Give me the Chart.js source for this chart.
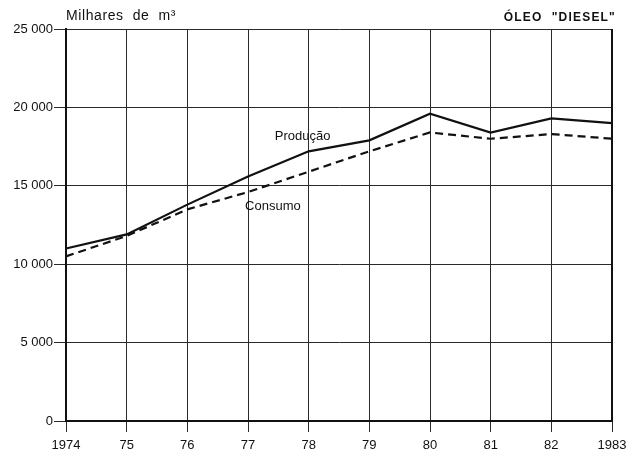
<!DOCTYPE html>
<html>
<head>
<meta charset="utf-8">
<script src="https://cdn.jsdelivr.net/npm/chart.js@4/dist/chart.umd.min.js"></script>
<style>
  html, body { margin: 0; padding: 0; background: #fff; }
  #wrap { width: 633px; height: 456px; position: relative; }
</style>
</head>
<body>
<div id="wrap"><canvas id="c" width="633" height="456"></canvas></div>
<script>
// Years on the horizontal axis (short form between the end years)
const years = ['1974', '75', '76', '77', '78', '79', '80', '81', '82', '1983'];
// Diesel oil, thousands of cubic metres
const producao = [11000, 11900, 13800, 15600, 17200, 17900, 19600, 18400, 19300, 19000];
const consumo  = [10500, 11800, 13500, 14600, 15900, 17200, 18400, 18000, 18300, 18000];
// Value axis ticks
const yTicks = [0, 5000, 10000, 15000, 20000, 25000];

const FONT = '"Liberation Sans", Arial, sans-serif';
const INK = '#111';

function fmt(v) {
  return v >= 1000 ? Math.floor(v / 1000) + ' ' + String(v % 1000).padStart(3, '0') : String(v);
}

// Header texts and series captions
const annotations = {
  id: 'annotations',
  afterDatasetsDraw(chart) {
    const { ctx, scales: { x, y }, chartArea } = chart;
    const spacing = ('letterSpacing' in ctx);
    ctx.save();
    ctx.fillStyle = INK;
    ctx.textBaseline = 'alphabetic';
    ctx.font = '14px ' + FONT;
    ctx.textAlign = 'left';
    if (spacing) ctx.letterSpacing = '0.6px';
    ctx.fillText('Milhares  de  m\u00B3', chartArea.left, 20);
    ctx.textAlign = 'right';
    ctx.font = 'bold 12px ' + FONT;
    if (spacing) ctx.letterSpacing = '1.2px';
    ctx.fillText('\u00D3LEO  "DIESEL"', chartArea.right + 4, 21);
    if (spacing) ctx.letterSpacing = '0px';
    ctx.textAlign = 'center';
    ctx.textBaseline = 'middle';
    ctx.font = '13px ' + FONT;
    ctx.fillText('Produ\u00E7\u00E3o', x.getPixelForValue(3.9), y.getPixelForValue(18180));
    ctx.fillText('Consumo', x.getPixelForValue(3.41), y.getPixelForValue(13700));
    // heavier frame on the left and right edges
    ctx.strokeStyle = INK;
    ctx.lineWidth = 2;
    ctx.beginPath();
    ctx.moveTo(chartArea.left, chartArea.top);
    ctx.lineTo(chartArea.left, chartArea.bottom);
    ctx.moveTo(chartArea.right, chartArea.top);
    ctx.lineTo(chartArea.right, chartArea.bottom);
    ctx.stroke();
    ctx.restore();
  }
};

new Chart(document.getElementById('c'), {
  type: 'line',
  data: {
    labels: years,
    datasets: [
      {
        label: 'Produção',
        data: producao,
        borderColor: INK,
        borderWidth: 2.2,
        pointRadius: 0,
        tension: 0,
        fill: false
      },
      {
        label: 'Consumo',
        data: consumo,
        borderColor: INK,
        borderWidth: 2.2,
        borderDash: [8, 5],
        pointRadius: 0,
        tension: 0,
        fill: false
      }
    ]
  },
  options: {
    responsive: false,
    animation: false,
    layout: { padding: { top: 29, right: 21, left: 0, bottom: 0 } },
    plugins: {
      legend: { display: false },
      tooltip: { enabled: false }
    },
    scales: {
      x: {
        offset: false,
        grid: { color: '#2a2a2a', lineWidth: 1, tickLength: 11, drawTicks: true, tickColor: '#2a2a2a' },
        border: { color: INK, width: 2 },
        ticks: {
          color: INK,
          font: { family: FONT, size: 13 },
          padding: 6,
          maxRotation: 0,
          autoSkip: false
        },
        afterFit(scale) { scale.height = 35; }
      },
      y: {
        min: 0,
        max: 25000,
        afterBuildTicks(scale) { scale.ticks = yTicks.map(v => ({ value: v })); },
        grid: { color: '#2a2a2a', lineWidth: 1, tickLength: 12, tickColor: '#2a2a2a' },
        border: { color: INK, width: 2 },
        ticks: {
          color: INK,
          font: { family: FONT, size: 13 },
          padding: 1,
          callback: v => fmt(v)
        },
        afterFit(scale) { scale.width = 66; }
      }
    }
  },
  plugins: [annotations]
});
</script>
</body>
</html>
